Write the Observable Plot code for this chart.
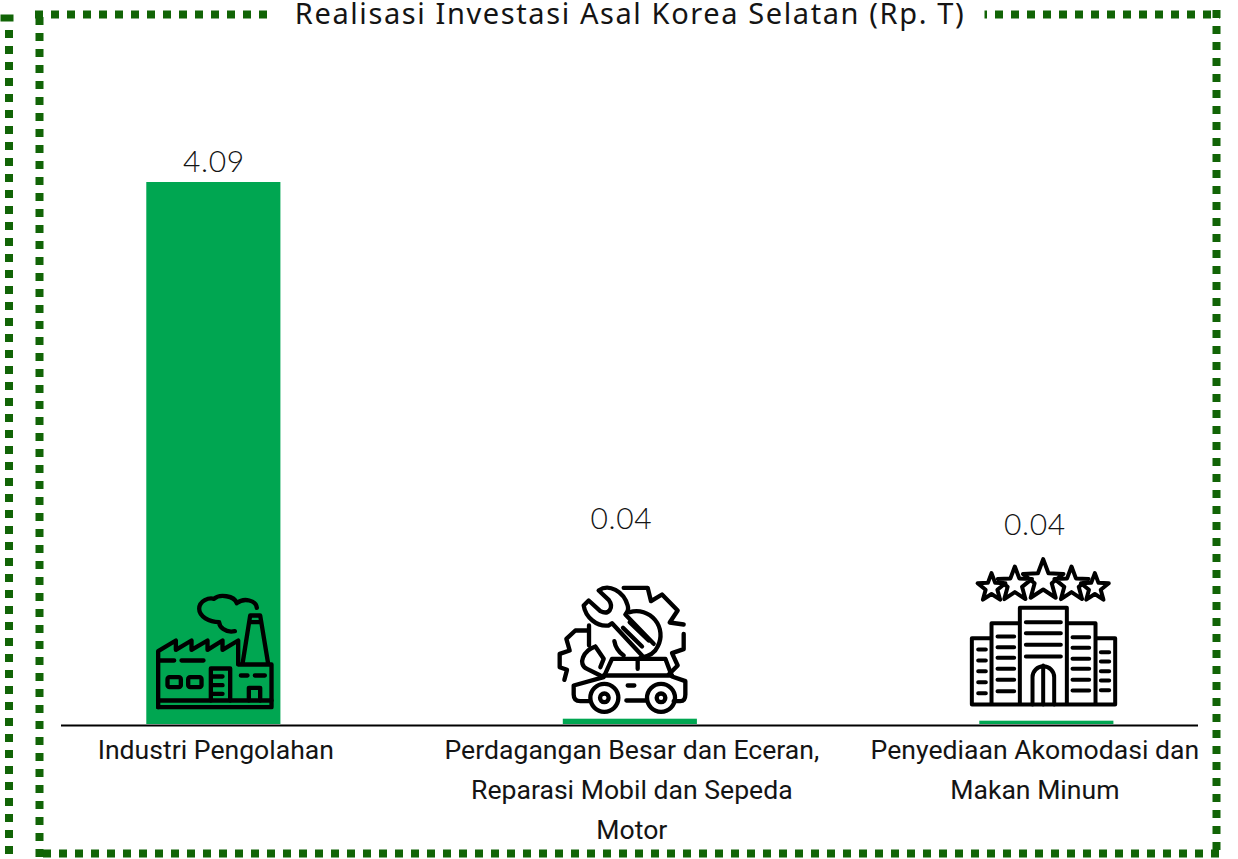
<!DOCTYPE html>
<html><head><meta charset="utf-8">
<style>html,body{margin:0;padding:0;background:#fff}svg{display:block;max-width:none}</style>
<script src="https://cdn.jsdelivr.net/npm/d3@7"></script>
<script src="https://cdn.jsdelivr.net/npm/@observablehq/plot@0.6"></script>
</head><body><div id="c"></div>
<script>
const categories = ["Industri Pengolahan","Perdagangan Besar dan Eceran,\nReparasi Mobil dan Sepeda\nMotor","Penyediaan Akomodasi dan\nMakan Minum"];
const barValues = [4.09,0.04,0.025];
const valueLabels = ["4.09","0.04","0.04"];
const chartTitle = "Realisasi Investasi Asal Korea Selatan (Rp. T)";

const GREEN="#00a651", BORDER="#116406", INK="#141414";
const star=(cx,cy,r)=>{let p=[];for(let i=0;i<10;i++){const a=-Math.PI/2+i*Math.PI/5,q=i%2?r*0.42:r;p.push((cx+q*Math.cos(a)).toFixed(1)+" "+(cy+q*Math.sin(a)).toFixed(1));}return "M"+p.join("L")+"Z";};
const uri=(w,h,sw,body)=>"data:image/svg+xml;utf8,"+encodeURIComponent(`<svg xmlns="http://www.w3.org/2000/svg" viewBox="0 0 ${w} ${h}" width="${w}" height="${h}"><g fill="none" stroke="#000" stroke-width="${sw}" stroke-linecap="round" stroke-linejoin="round">${body}</g></svg>`);
const factoryIcon=uri(480,480,13,`
<path d="M82 380V212L135 180V208L182 180V208L230 180V208L275 180V208L322 180V250"/>
<path d="M322 252H422V380H82"/><path d="M82 360H422"/>
<path d="M88 240H130M152 240H218"/>
<path d="M335 250L358 105H388L412 250M358 125H388"/>
<path d="M312 152C282 158 265 138 265 125C235 125 205 108 205 85C205 60 235 50 250 55C265 40 310 45 318 68C340 50 375 60 378 82"/>
<rect x="110" y="290" width="40" height="30" rx="6"/><rect x="172" y="290" width="40" height="30" rx="6"/>
<path d="M240 360V264H298V360M240 288H275M240 314H275M240 340H275"/>
<path d="M330 285H350M372 285H402M354 360V322H388V360"/>`);
const toolIcon=uri(510,510,13,`
<path d="M250 52H322L332 92L365 72L412 120L388 156L430 162M430 190V236L395 248L412 285L385 312"/>
<path d="M268 125A72 72 0 0 1 352 228C345 245 325 258 300 262M222 212C225 230 235 245 250 255"/>
<path d="M175 60C205 38 250 62 262 105C265 115 262 125 255 132L340 220M175 60L205 88C222 112 205 135 180 122L145 90L130 105C135 140 170 170 205 165L215 158L305 255"/>
<path d="M248 172L305 228M268 155L325 210"/>
<path d="M146 165V225M146 180L105 180L78 205L88 240L58 250V290L80 298L72 328"/>
<path d="M165 228C130 240 110 280 140 295L180 315M165 228L190 265L180 290"/>
<path d="M100 372V345L190 320L215 265H375L395 318L435 332V372Q435 392 420 392H400M145 392H120Q100 392 100 372"/>
<path d="M190 315H395M292 272V295M262 345H282M258 390H320"/>
<circle cx="192" cy="382" r="42"/><circle cx="192" cy="382" r="13"/>
<circle cx="362" cy="382" r="42"/><circle cx="362" cy="382" r="13"/>`);
const hotelIcon=uri(510,540,12,`
<path d="${star(92,112,44)}"/><path d="${star(162,102,54)}"/><path d="${star(247,90,64)}"/><path d="${star(332,102,54)}"/><path d="${star(402,112,44)}"/>
<path d="M33 462V263H92M92 462V218H177M177 462V172H318V462M318 218H404V462M404 263H463V462H33"/>
<path d="M195 215H300M195 248H300M195 283H300M195 318H300"/>
<path d="M110 258H160M110 290H160M110 322H160M110 355H160M110 388H160M110 422H160"/>
<path d="M335 260H385M335 292H385M335 325H385M335 355H385M335 388H385M335 420H385"/>
<path d="M52 297H75M52 330H75M52 362H75M52 395H75M52 428H75"/>
<path d="M420 305H445M420 333H445M420 362H445M420 390H445M420 419H445"/>
<path d="M215 462V380A32 32 0 0 1 280 380V462M247 345V462"/>`);

const dash={stroke:BORDER,strokeWidth:8,strokeDasharray:"8 8"};
const L=61,R=40,T=182,B=135,W=1238,H=859;
const right=W-R,bottom=H-B,firstCenter=213.35;
const rows=categories.map((c,i)=>({category:c,value:barValues[i],label:valueLabels[i]}));
// dashed border sides: rules with the frame insets moved out to the page edges
const hSide=(y,a,b)=>Plot.ruleY([0],{...dash,dy:y-bottom,insetLeft:a-L,insetRight:right-b});
const vSide=(x,a,b)=>Plot.ruleX(rows.slice(0,1),{...dash,x:"category",dx:x-firstCenter,insetTop:a-T,insetBottom:bottom-b});
const valueText={fontFamily:"Lato",fontWeight:300,fontSize:30,fill:INK,lineAnchor:"middle"};
const catText={fontFamily:"Roboto",fontSize:26.6,fill:INK,lineAnchor:"top",lineHeight:1.504,y:0};

const chart=Plot.plot({
  width:W,height:H,
  marginLeft:L,marginRight:R,marginTop:T,marginBottom:B,
  x:{domain:categories,range:[5.1,1254.6],paddingInner:0.678,paddingOuter:0.339,round:false,axis:null},
  y:{domain:[0,4.09],axis:null},
  marks:[
    hSide(14,35,1220),
    hSide(853,43,1220),
    vSide(39,17,857),
    vSide(1216,10,857),
    vSide(8.5,30,859),
    Plot.frame({fill:BORDER,stroke:null,insetLeft:0-L,insetRight:right-13,insetTop:14-T,insetBottom:bottom-21}),
    Plot.frame({fill:"#fff",stroke:null,insetLeft:272-L,insetRight:right-984,insetTop:-T,insetBottom:bottom-26}),
    Plot.barY(rows,{x:"category",y:"value",fill:GREEN}),
    Plot.ruleY([0],{stroke:"#000",strokeWidth:2,dy:1}),
    Plot.image(rows.slice(0,1),{x:"category",y:0,src:()=>factoryIcon,width:160,height:160,dx:-3,dy:-64}),
    Plot.image(rows.slice(1,2),{x:"category",y:0,src:()=>toolIcon,width:170,height:170,dx:-5,dy:-69}),
    Plot.image(rows.slice(2,3),{x:"category",y:0,src:()=>hotelIcon,width:170,height:180,dx:-1,dy:-84}),
    Plot.text(rows.slice(0,1),{x:"category",y:"value",text:"label",dy:-20,...valueText}),
    Plot.text(rows.slice(1,2),{x:"category",y:0,text:"label",dy:-205,dx:-9,...valueText}),
    Plot.text(rows.slice(2,3),{x:"category",y:0,text:"label",dy:-199,dx:-12,...valueText}),
    Plot.text(rows.slice(0,1),{x:"category",text:"category",dy:6,dx:2,...catText}),
    Plot.text(rows.slice(1,2),{x:"category",text:"category",dy:6,dx:1.5,...catText}),
    Plot.text(rows.slice(2,3),{x:"category",text:"category",dy:6,dx:-12,...catText}),
    Plot.text([chartTitle],{frameAnchor:"top",dy:14-T,text:d=>d,fontFamily:"Noto Sans",fontWeight:400,fontSize:29,fill:INK,lineAnchor:"middle"})
  ]
});
d3.select(chart).selectAll("text").filter(function(){return this.textContent===chartTitle;}).style("letter-spacing","1.6px");
d3.select(chart).selectAll("text").filter(function(){return valueLabels.includes(this.textContent);}).style("letter-spacing","0.6px");
document.getElementById("c").append(chart);
</script></body></html>
